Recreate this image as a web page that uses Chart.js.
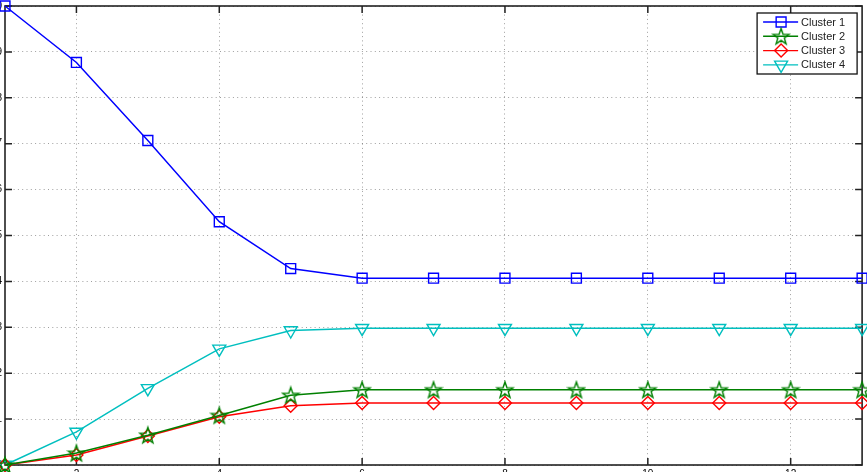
<!DOCTYPE html>
<html lang="en">
<head>
  <meta charset="UTF-8">
  <title>Cluster sizes per iteration</title>
  <script src="https://cdn.jsdelivr.net/npm/chart.js"></script>
  <style>
    body { margin: 0; background: #fff; }
    #frame { position: relative; width: 867px; height: 472px; overflow: hidden; }
    /* canvas is a bit bigger than the window so the tick labels fall off the edge, like the reference */
    #box { position: absolute; left: -40px; top: -3px; width: 911px; height: 503px; }
  </style>
</head>
<body>
  <div id="frame"><div id="box"><canvas id="clusterChart"></canvas></div></div>

  <script>
    // data
    const iterations = [1, 2, 3, 4, 5, 6, 7, 8, 9, 10, 11, 12, 13];
    const seriesNames = ['Cluster 1', 'Cluster 2', 'Cluster 3', 'Cluster 4'];
    const cluster1 = [10, 8.77, 7.07, 5.30, 4.28, 4.07, 4.07, 4.07, 4.07, 4.07, 4.07, 4.07, 4.07];
    const cluster2 = [0, 0.26, 0.65, 1.08, 1.52, 1.64, 1.64, 1.64, 1.64, 1.64, 1.64, 1.64, 1.64];
    const cluster3 = [0, 0.22, 0.63, 1.05, 1.29, 1.35, 1.35, 1.35, 1.35, 1.35, 1.35, 1.35, 1.35];
    const cluster4 = [0, 0.72, 1.67, 2.53, 2.93, 2.98, 2.98, 2.98, 2.98, 2.98, 2.98, 2.98, 2.98];
    const xTicks = [2, 4, 6, 8, 10, 12];
    const yTicks = [0, 1, 2, 3, 4, 5, 6, 7, 8, 9, 10];

    const FONT = '"Liberation Sans", Arial, Helvetica, sans-serif';
    const BLUE = 'rgb(0,0,255)', GREEN = 'rgb(0,128,0)', RED = 'rgb(255,0,0)', CYAN = 'rgb(0,191,191)';

    // pentagram marker (Chart.js 'star' is an asterisk, not a five point star)
    function makeStar(color) {
      const c = document.createElement('canvas');
      c.width = 20; c.height = 20;
      const g = c.getContext('2d');
      g.strokeStyle = color;
      g.lineWidth = 1.4;
      g.beginPath();
      for (let i = 0; i < 10; i++) {
        const r = i % 2 === 0 ? 8.5 : 3.4;
        const a = -Math.PI / 2 + i * Math.PI / 5;
        const px = 10 + r * Math.cos(a), py = 10.7 + r * Math.sin(a);
        if (i === 0) g.moveTo(px, py); else g.lineTo(px, py);
      }
      g.closePath();
      g.stroke();
      return c;
    }
    const starImg = makeStar(GREEN);

    function pts(arr) {
      return arr.map((v, i) => ({ x: iterations[i], y: v }));
    }

    function ds(label, arr, color, style, radius, rotation) {
      return {
        label: label,
        data: pts(arr),
        borderColor: color,
        backgroundColor: 'rgba(0,0,0,0)',
        pointBorderColor: color,
        pointBackgroundColor: 'rgba(0,0,0,0)',
        borderWidth: 1.5,
        pointBorderWidth: 1.4,
        pointStyle: style,
        pointRadius: radius,
        pointRotation: rotation || 0,
        tension: 0,
        clip: false
      };
    }

    // draws a marker for the legend (same shapes as the plot)
    function drawMarker(ctx, d, x, y) {
      const st = d.pointStyle, r = d.pointRadius;
      ctx.save();
      ctx.strokeStyle = d.borderColor;
      ctx.lineWidth = 1.4;
      if (st instanceof HTMLCanvasElement) {
        ctx.drawImage(st, x - st.width / 2, y - st.height / 2);
      } else {
        ctx.beginPath();
        if (st === 'rect') {
          const s = Math.SQRT1_2 * r;
          ctx.rect(x - s, y - s, 2 * s, 2 * s);
        } else if (st === 'rectRot') {
          ctx.moveTo(x, y - r); ctx.lineTo(x + r, y); ctx.lineTo(x, y + r); ctx.lineTo(x - r, y);
          ctx.closePath();
        } else if (st === 'triangle') {
          let a = (d.pointRotation || 0) * Math.PI / 180;
          for (let i = 0; i < 3; i++) {
            const px = x + Math.sin(a) * r, py = y - Math.cos(a) * r;
            if (i === 0) ctx.moveTo(px, py); else ctx.lineTo(px, py);
            a += 2 * Math.PI / 3;
          }
          ctx.closePath();
        }
        ctx.stroke();
      }
      ctx.restore();
    }

    // box round the plot and the little inward tick marks
    const axesBox = {
      id: 'axesBox',
      beforeDatasetsDraw(chart) {
        const { ctx, chartArea: a, scales } = chart;
        ctx.save();
        ctx.strokeStyle = '#222';
        ctx.lineWidth = 1.5;
        ctx.beginPath();
        scales.x.ticks.forEach(t => {
          const px = scales.x.getPixelForValue(t.value);
          ctx.moveTo(px, a.bottom); ctx.lineTo(px, a.bottom - 7);
          ctx.moveTo(px, a.top); ctx.lineTo(px, a.top + 7);
        });
        scales.y.ticks.forEach(t => {
          const py = scales.y.getPixelForValue(t.value);
          ctx.moveTo(a.left, py); ctx.lineTo(a.left + 7, py);
          ctx.moveTo(a.right, py); ctx.lineTo(a.right - 7, py);
        });
        ctx.stroke();
        ctx.lineWidth = 1.6;
        ctx.strokeRect(a.left, a.top, a.right - a.left, a.bottom - a.top);
        ctx.restore();
      }
    };

    // MATLAB style legend: line sample with marker, boxed, top right
    const boxLegend = {
      id: 'boxLegend',
      afterDatasetsDraw(chart) {
        const { ctx, chartArea: a } = chart;
        const w = 100, h = 61;
        const left = a.right - 5 - w, top = a.top + 7;
        ctx.save();
        ctx.fillStyle = '#fff';
        ctx.fillRect(left, top, w, h);
        ctx.strokeStyle = '#111';
        ctx.lineWidth = 1.3;
        ctx.strokeRect(left, top, w, h);
        ctx.font = '11px ' + FONT;
        ctx.textBaseline = 'middle';
        chart.data.datasets.forEach((d, i) => {
          const y = top + 9 + i * 14.3;
          ctx.strokeStyle = d.borderColor;
          ctx.lineWidth = 1.4;
          ctx.beginPath();
          ctx.moveTo(left + 6, y); ctx.lineTo(left + 41, y);
          ctx.stroke();
          drawMarker(ctx, d, left + 24, y);
          ctx.fillStyle = '#222';
          ctx.fillText(d.label, left + 44, y + 0.5);
        });
        ctx.restore();
      }
    };

    const ctx = document.getElementById('clusterChart').getContext('2d');
    new Chart(ctx, {
      type: 'line',
      data: {
        datasets: [
          ds(seriesNames[0], cluster1, BLUE, 'rect', 7),
          ds(seriesNames[1], cluster2, GREEN, starImg, 7),
          ds(seriesNames[2], cluster3, RED, 'rectRot', 6.5),
          ds(seriesNames[3], cluster4, CYAN, 'triangle', 7.5, 180)
        ]
      },
      options: {
        responsive: true,
        maintainAspectRatio: false,
        animation: false,
        layout: { padding: { top: 5, right: 5, left: 0, bottom: 0 } },
        plugins: {
          legend: { display: false },
          tooltip: { enabled: false }
        },
        scales: {
          x: {
            type: 'linear',
            min: 1,
            max: 13,
            afterBuildTicks: s => { s.ticks = xTicks.map(v => ({ value: v })); },
            afterFit: s => { s.height = 35; },
            ticks: { padding: 3, color: '#000', maxRotation: 0, font: { size: 10, family: FONT } },
            grid: { color: 'rgba(0,0,0,0.38)', lineWidth: 1, drawTicks: false },
            border: { display: false, dash: [1, 3.3] }
          },
          y: {
            min: 0,
            max: 10,
            afterBuildTicks: s => { s.ticks = yTicks.map(v => ({ value: v })); },
            afterFit: s => { s.width = 45; },
            ticks: { padding: 3, color: '#000', font: { size: 10, family: FONT } },
            grid: { color: 'rgba(0,0,0,0.38)', lineWidth: 1, drawTicks: false },
            border: { display: false, dash: [1, 3.3] }
          }
        }
      },
      plugins: [axesBox, boxLegend]
    });
  </script>
</body>
</html>
